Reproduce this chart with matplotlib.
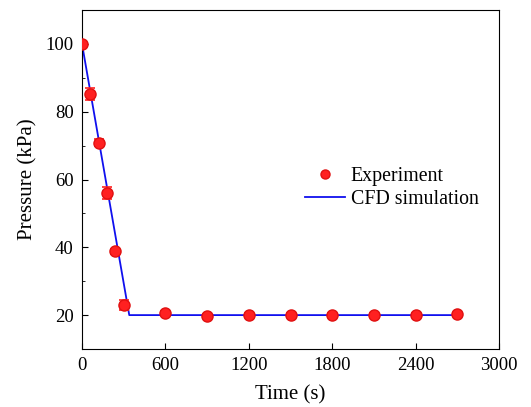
import matplotlib
matplotlib.use("Agg")
import matplotlib.pyplot as plt
from matplotlib.lines import Line2D

exp_time = [0, 60, 120, 180, 240, 300, 600, 900, 1200, 1500, 1800, 2100, 2400, 2700]
exp_pressure = [100, 85.3, 70.8, 56.0, 38.8, 23.0, 20.5, 19.8, 20.0, 20.0, 20.0, 20.0, 20.0, 20.2]
exp_err = [0.8, 1.8, 1.0, 1.8, 0.8, 1.5, 0.6, 0.5, 0.5, 0.5, 0.5, 0.5, 0.5, 0.5]

cfd_time = [0, 340, 2700]
cfd_pressure = [100, 20, 20]

plt.rcParams['font.family'] = ['Liberation Serif', 'DejaVu Serif']
fig = plt.figure(figsize=(5.31, 4.07), dpi=100)
ax = fig.add_axes([82/531, 1-349/407, 417/531, 339/407])

ax.plot(cfd_time, cfd_pressure, color='#1010ee', lw=1.3, zorder=2)
ax.errorbar(exp_time, exp_pressure, yerr=exp_err, fmt='o', color='#ff2020',
            ms=8, mec='#e01010', ecolor='#ff2020', elinewidth=1.2, capsize=3.5,
            capthick=1.2, zorder=3)

ax.set_xlim(0, 3000)
ax.set_ylim(10, 110)
ax.set_xticks([0, 600, 1200, 1800, 2400, 3000])
ax.set_yticks([20, 40, 60, 80, 100])
ax.set_yticks([30, 50, 70, 90], minor=True)
ax.tick_params(axis='both', which='both', direction='in', labelsize=13.5, length=4)
ax.tick_params(axis='y', which='minor', length=2.5)
ax.tick_params(axis='both', which='major', pad=6)
ax.set_xlabel('Time (s)', fontsize=15, labelpad=8)
ax.set_ylabel('Pressure (kPa)', fontsize=15, labelpad=6)

h_exp = Line2D([], [], ls='none', marker='o', ms=6.5, color='#ff2020', mec='#e01010')
h_cfd = Line2D([], [], color='#1010ee', lw=1.3)
ax.legend([h_exp, h_cfd], ['Experiment', 'CFD simulation'], frameon=False, fontsize=14.3,
          loc='upper left', bbox_to_anchor=(0.535, 0.537), handlelength=2.0,
          handletextpad=0.3, labelspacing=0.2, borderpad=0, borderaxespad=0)

fig.savefig('out.png', dpi=100)
